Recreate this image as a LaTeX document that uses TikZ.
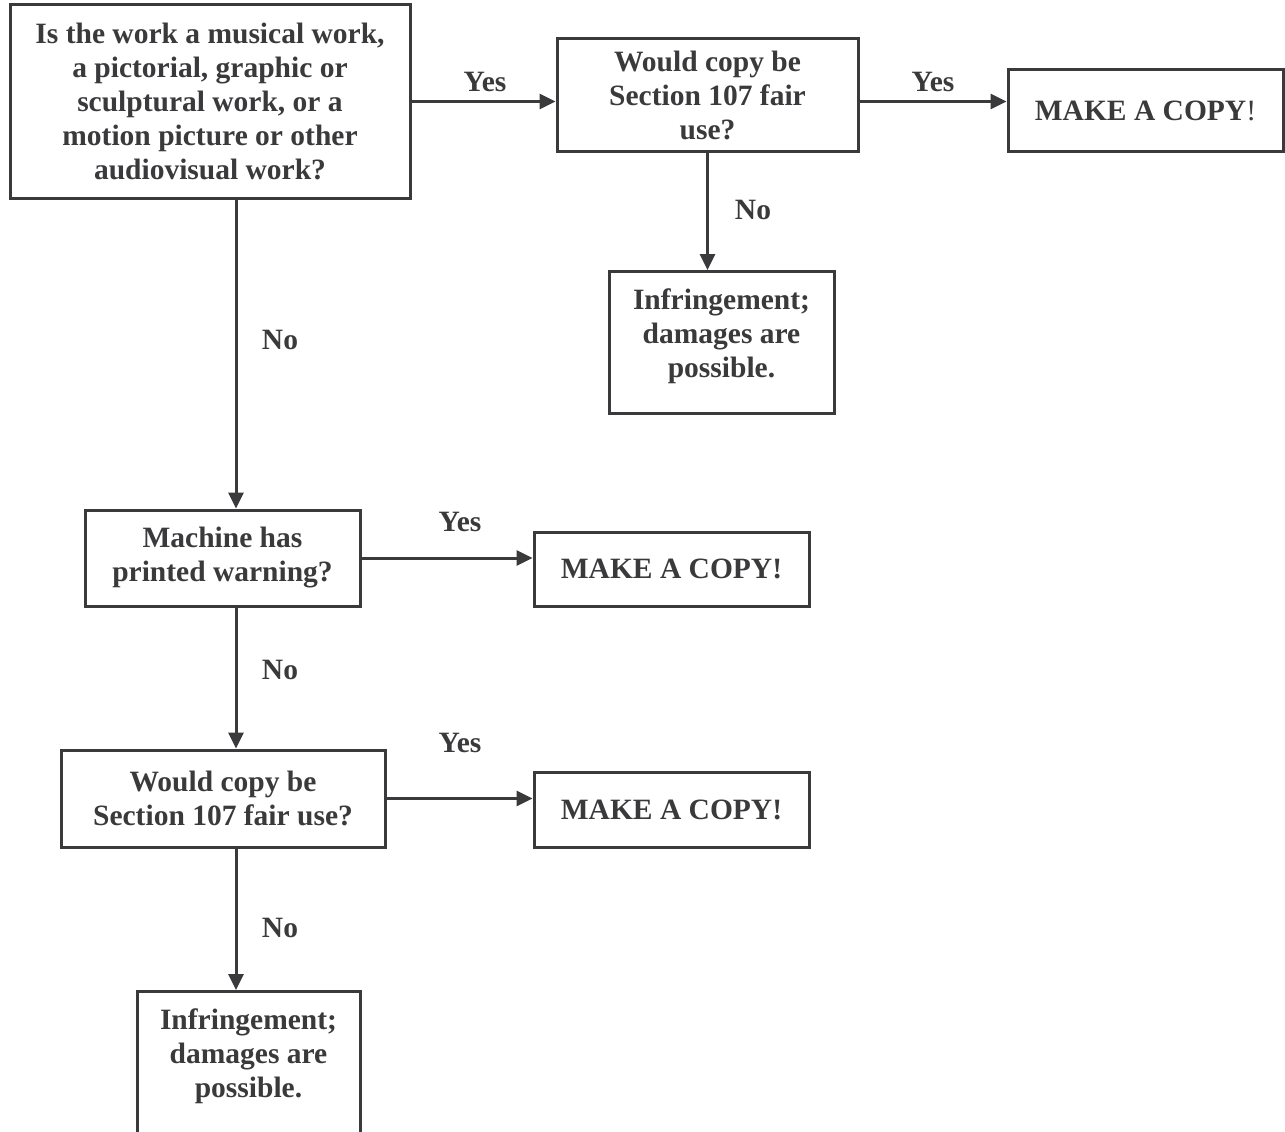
\documentclass[tikz,border=0pt]{standalone}
\usepackage{fontspec}
\setmainfont{Liberation Serif}
\usetikzlibrary{arrows.meta}
\definecolor{ink}{HTML}{3A3A3C}

\begin{document}
\begin{tikzpicture}[x=1pt,y=-1pt,ink,line width=3pt,
	box/.style={draw,align=center,inner sep=0pt,font=\bfseries\fontsize{29.5}{34}\selectfont},
	lbl/.style={font=\bfseries\fontsize{29.5}{34}\selectfont},
	arr/.style={-{Triangle[length=16pt,width=15pt]}}]
	\clip (0,0) rectangle (1285,1132);
	\coordinate (trunk) at (236,0);
	
	\node[box,minimum width=400,minimum height=193] at (210,101.5) (work){Is the work a musical work,\\a pictorial, graphic or\\sculptural work, or a\\motion picture or other\\audiovisual work?};
	\node[box,minimum width=301,minimum height=112] at (707.5,95) (fair1){Would copy be\\Section 107 fair\\use?};
	\node[box,minimum width=275,minimum height=81] at (1145.5,110.5) (copy1){MAKE A COPY{\mdseries!}};
	\node[box,minimum width=225,anchor=north,text depth=19pt,inner ysep=17pt] at (721.5,270) (harm1){Infringement;\\damages are\\possible.};
	\node[box,minimum width=275,minimum height=96] at (222.5,558) (warn){Machine has\\printed warning?};
	\node[box,minimum width=275,minimum height=74] at (671.5,569) (copy2){MAKE A COPY!};
	\node[box,minimum width=324,minimum height=97] at (223,798.5) (fair2){Would copy be\\Section 107 fair use?};
	\node[box,minimum width=275,minimum height=75] at (671.5,809.5) (copy3){MAKE A COPY!};
	\node[box,minimum width=223,anchor=north,text depth=110pt,inner ysep=17pt] at (248.5,990) (harm2){Infringement;\\damages are\\possible.};
	
	\draw[arr] (work.east) -- (work.east -| fair1.west);
	\draw[arr] (fair1.east |- work.east) -- (copy1.west |- work.east);
	\draw[arr] (fair1.south) -- (fair1.south |- harm1.north);
	\draw[arr] (work.south -| trunk) -- (warn.north -| trunk);
	\draw[arr] (warn.east) -- (warn.east -| copy2.west);
	\draw[arr] (warn.south -| trunk) -- (fair2.north -| trunk);
	\draw[arr] (fair2.east) -- (fair2.east -| copy3.west);
	\draw[arr] (fair2.south -| trunk) -- (harm2.north -| trunk);
	
	\node[lbl] at (485,82) (yes1){Yes};
	\node[lbl] at (933,82) (yes2){Yes};
	\node[lbl] at (753,210) (no1){No};
	\node[lbl] at (280,340) (no2){No};
	\node[lbl] at (460,522) (yes3){Yes};
	\node[lbl] at (280,670) (no3){No};
	\node[lbl] at (460,743) (yes4){Yes};
	\node[lbl] at (280,928) (no4){No};
\end{tikzpicture}
\end{document}
